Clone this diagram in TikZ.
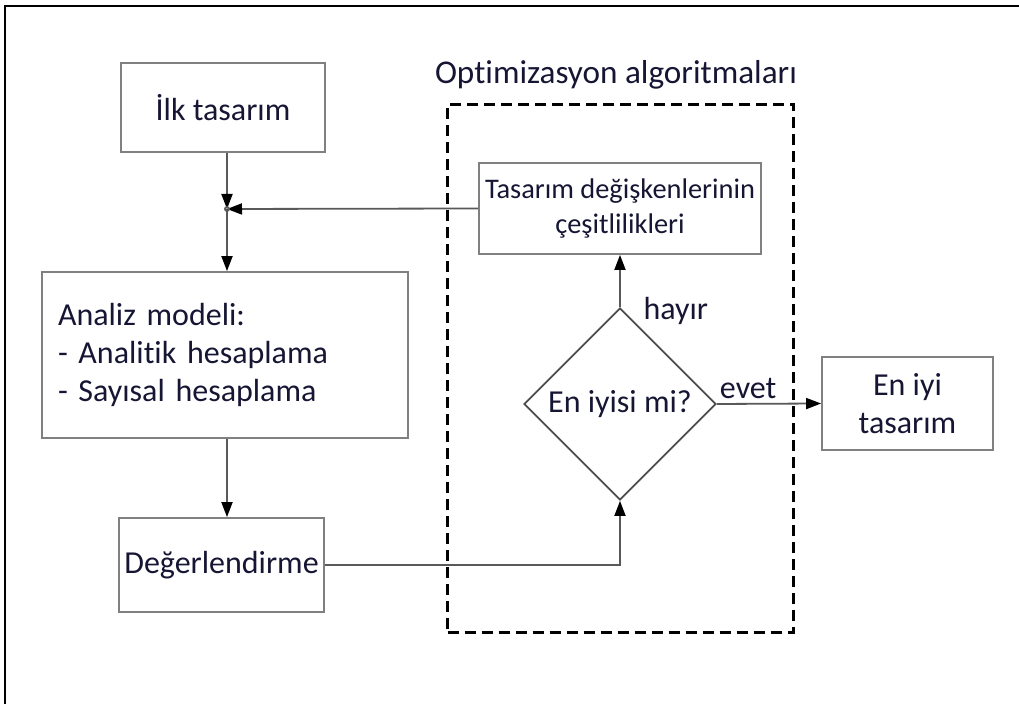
\documentclass[tikz,border=0pt]{standalone}
\usepackage{fontspec}
\setmainfont{Carlito}[Ligatures={NoCommon}]
\usetikzlibrary{arrows.meta, positioning, calc, fit, shapes.geometric}
\definecolor{yazirengi}{RGB}{22,22,52}

\begin{document}
\begin{tikzpicture}[x=0.5pt, y=-0.5pt,
  box/.style={draw=black!50, line width=0.9pt, inner sep=0pt, align=center, text=yazirengi, font=\fontsize{16}{19}\selectfont},
  conn/.style={draw=black!65, line width=0.9pt},
  arr/.style={conn, -{Triangle[length=7.5pt, width=5.5pt, color=black]}},
  lbl/.style={font=\fontsize{16}{19}\selectfont, text=yazirengi}]
\useasboundingbox (0,0) rectangle (1019,704);
\draw[line width=1.1pt] (5,720) -- (5,6) -- (1040,6);

\node[draw, line width=1.5pt, dash pattern=on 5.5pt off 3pt, minimum width=173pt, minimum height=264pt] (optbox) at (620.5,368.5) {};
\node[lbl, font=\fontsize{16.6}{19}\selectfont] (opttitle) at (616,75) {Optimizasyon algoritmaları};

\node[box, minimum width=102pt, minimum height=44.5pt] (ilk) at (223,107.5) {İlk tasarım};
\node[box, align=left, text width=167pt, inner xsep=8pt, minimum height=83pt] (analiz) at (225,355) {
  Analiz modeli:\\
  - Analitik hesaplama\\
  - Sayısal hesaplama
};
\node[box, minimum width=102.5pt, minimum height=47pt] (deger) at (221.5,565) {Değerlendirme};
\node[box, fill=white, minimum width=141pt, minimum height=45.5pt, font=\fontsize{14.2}{17.5}\selectfont] (degisken) at (620,208.5) {
  Tasarım değişkenlerinin\\
  çeşitlilikleri
};
\node[box, draw=black!70, diamond, aspect=1, minimum width=96pt, minimum height=96pt] (karar) at (620,404) {En iyisi mi?};
\node[box, minimum width=85.5pt, minimum height=46.5pt] (eniyi) at (907.5,403.5) {En iyi\\ tasarım};

\coordinate (jn) at (227,209);
\draw[arr] (jn |- ilk.south) -- (jn);
\draw[arr] (jn) -- (jn |- analiz.north);
\draw[arr] (jn |- analiz.south) -- (jn |- deger.north);
\draw[arr] (degisken.west) -- (jn);
\draw[conn] (jn) circle (1pt);
\draw[arr] (deger.east) -| (karar.south);
\draw[arr] (karar.north) -- node[lbl, pos=0, anchor=west, xshift=8pt, yshift=-2pt] {hayır} (degisken.south);
\draw[arr] (karar.east) -- node[lbl, pos=0.3, above=-1pt] {evet} (eniyi.west);
\end{tikzpicture}
\end{document}
